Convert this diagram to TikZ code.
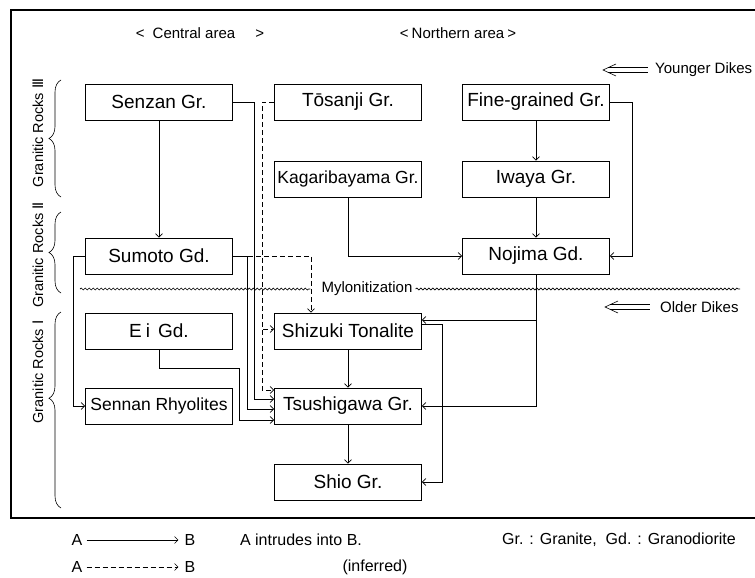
\documentclass[tikz,border=0pt]{standalone}
\usepackage{fontspec}
\setmainfont{Liberation Sans}
\newfontfamily\numfont{DejaVu Sans}
\usetikzlibrary{arrows.meta,decorations.pathmorphing,decorations.pathreplacing}

\tikzset{
  rock/.style={draw, line width=0.9pt, minimum width=147pt, minimum height=36pt, inner sep=0pt, font=\fontsize{19}{21}\selectfont},
  longrock/.style={rock, font=\fontsize{17.5}{20}\selectfont},
  arr/.style={line width=0.6pt, -{Straight Barb[length=3.5pt,width=7pt]}},
  inf/.style={arr, dash pattern=on 5pt off 3pt},
  note/.style={font=\fontsize{15}{17}\selectfont, inner sep=2pt},
  group/.style={font=\fontsize{14.5}{16}\selectfont, rotate=90, inner sep=0pt},
  legend/.style={font=\fontsize{16}{18}\selectfont, inner sep=2pt},
  wavy/.style={line width=0.7pt, decorate, decoration={snake, amplitude=1pt, segment length=4pt}},
  rbrace/.style={line width=0.6pt, decorate, decoration={brace, amplitude=12pt}},
  pics/dike/.style={code={
    \draw[line width=0.6pt] (13,-6) -- (0,0) -- (13,6);
    \draw[line width=0.6pt] (5,-2.3) -- (45,-2.3) (5,2.3) -- (45,2.3);
  }},
}

\begin{document}
\begin{tikzpicture}[x=1pt, y=-1pt]
\useasboundingbox (0,0) rectangle (755,578);
% frame
\draw[line width=1.2pt] (755,10) -| (11,518) -- (755,518);

% headings
\node[note] (cen) at (200,33) {<\hspace{8pt}Central area\hspace{20pt}>};
\node[note] (nor) at (458,33) {<\hspace{3pt}Northern area\hspace{3pt}>};

% groups on the left
\draw[rbrace] (61,197) -- (61,80);
\draw[rbrace] (61,293) -- (61,212);
\draw[rbrace, decoration={aspect=0.56}] (61,508) -- (61,312);
\node[group] (gr3) at (38,133) {Granitic Rocks {\numfont Ⅲ}};
\node[group] (gr2) at (38,255) {Granitic Rocks {\numfont Ⅱ}};
\node[group] (gr1) at (38,372) {Granitic Rocks {\numfont Ⅰ}};

% rock bodies
\node[rock] (sen) at (159,102) {Senzan Gr.};
\node[rock] (tos) at (348,102) {Tōsanji Gr.};
\node[rock] (fin) at (536,102) {Fine-grained Gr.};
\node[longrock] (kag) at (348,179) {Kagaribayama Gr.};
\node[rock] (iwa) at (536,179) {Iwaya Gr.};
\node[rock] (sum) at (159,256) {Sumoto Gd.};
\node[rock] (noj) at (536,256) {Nojima Gd.};
\node[rock] (shz) at (348,331) {Shizuki Tonalite};
\node[rock] (ei) at (159,331) {E\hspace{4pt}i\hspace{8pt}Gd.};
\node[longrock] (snn) at (159,406) {Sennan Rhyolites};
\node[rock] (tsu) at (348,406) {Tsushigawa Gr.};
\node[rock] (sho) at (348,482) {Shio Gr.};

% mylonitization
\node[note] (myl) at (367,289) {Mylonitization};
\coordinate (mylw) at (80,289);
\coordinate (myle) at (740,289);
\draw[wavy] (mylw) -- ([xshift=-9pt]myl.west);
\draw[wavy] ([xshift=1pt]myl.east) -- (myle);

% dikes
\node[note, anchor=west] (yng) at (653,70) {Younger Dikes};
\pic at ([xshift=-50pt]yng.west) {dike};
\node[note, anchor=west] (old) at (658,307) {Older Dikes};
\pic at ([xshift=-53pt]old.west) {dike};

% intrusions, central area
\draw[arr] (sen.south) -- (sum.north);
\draw[arr] (sen.east) -| ([xshift=-20pt,yshift=7pt]tsu.west) -- ([yshift=7pt]tsu.west);
\draw[arr] (sum.east) -| ([xshift=-27pt,yshift=-3pt]tsu.west) -- ([yshift=-3pt]tsu.west);
\draw[inf] ([xshift=15pt]sum.east) -| ([xshift=-37pt]shz.north);
\draw[arr] (sum.west) -| ([xshift=-12pt]snn.west) -- (snn.west);
\draw[arr] (ei.south) -- ++(0,19) -| ([xshift=-35pt,yshift=-14pt]tsu.west) -- ([yshift=-14pt]tsu.west);
\draw[inf] (tos.west) -| ([xshift=-12pt,yshift=16pt]tsu.west) -- ([yshift=16pt]tsu.west);
\draw[inf] ([xshift=-11pt,yshift=2pt]shz.west) -- ([yshift=2pt]shz.west);

% intrusions, northern area
\draw[arr] (fin.south) -- (iwa.north);
\draw[arr] (iwa.south) -- (noj.north);
\draw[arr] (fin.east) -- ++(22,0) |- (noj.east);
\draw[arr] (kag.south) |- (noj.west);
\coordinate (shzin) at ([yshift=11pt]shz.east);
\draw[arr] (noj.south) |- (tsu.east);
\draw[arr] (noj.south |- shzin) -- (shzin);
\draw[arr] ([yshift=7pt]shz.east) -- ++(20,0) |- (sho.east);
\draw[arr] (shz.south) -- (tsu.north);
\draw[arr] (tsu.south) -- (sho.north);

% legend
\node[legend] (a1) at (77,540) {A};
\node[legend] (b1) at (190,540) {B};
\draw[arr, shorten >=4pt, shorten <=2pt] (a1) -- (b1);
\node[legend] (t1) at (301,540) {A intrudes into B.};
\node[legend] (abb) at (619,540) {Gr. : Granite,\ \ Gd. : Granodiorite};
\node[legend] (a2) at (77,567) {A};
\node[legend] (b2) at (190,567) {B};
\draw[inf, shorten >=4pt, shorten <=2pt] (a2) -- (b2);
\node[legend] (t2) at (375,567) {(inferred)};
\end{tikzpicture}
\end{document}
